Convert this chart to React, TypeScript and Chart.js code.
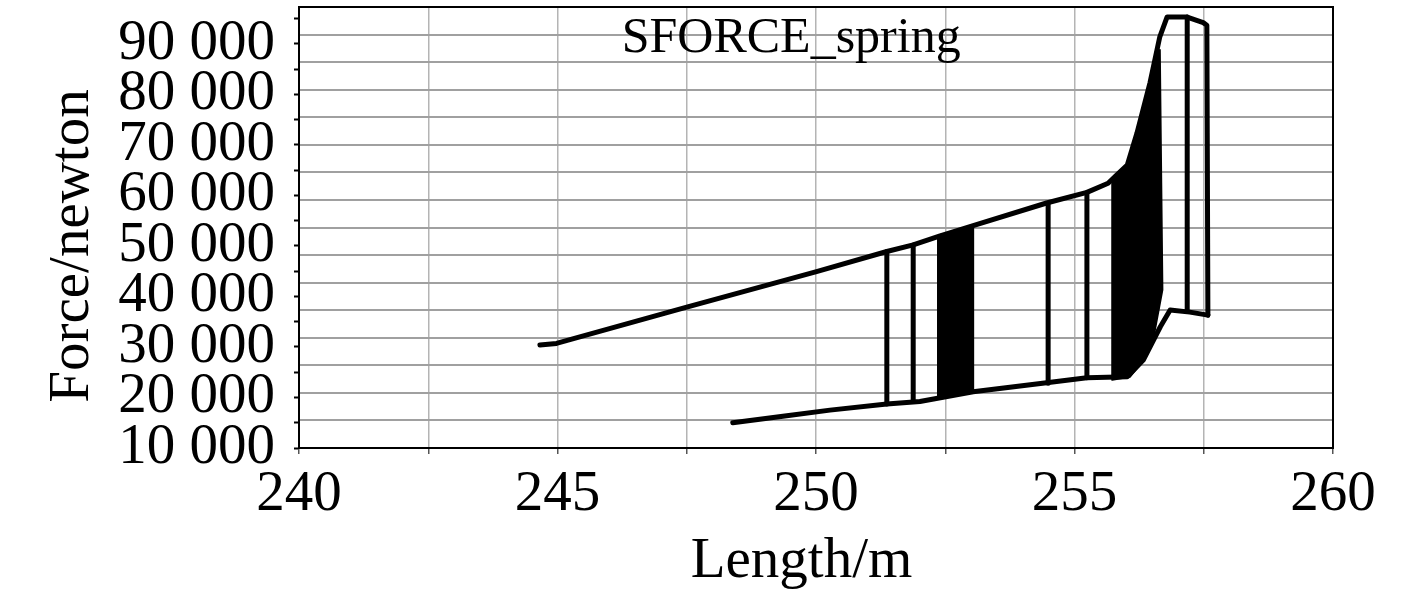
import React, { useEffect, useRef } from "react";
import { Chart, registerables } from "chart.js";

Chart.register(...registerables);

// ---- data ----
const chartTitle = "SFORCE_spring";
const xAxisTitle = "Length/m";
const yAxisTitle = "Force/newton";

const xMin = 240;
const xMax = 260;
const yMin = 10000;
const yMax = 97300;

// tick positions (labels only on the major ones)
const xTickValues = [240, 242.5, 245, 247.5, 250, 252.5, 255, 257.5, 260];
const xLabelValues = [240, 245, 250, 255, 260];
const yTickValues = [10000, 15000, 20000, 25000, 30000, 35000, 40000, 45000, 50000, 55000, 60000, 65000, 70000, 75000, 80000, 85000, 90000, 95000];
const yLabelValues = [10000, 20000, 30000, 40000, 50000, 60000, 70000, 80000, 90000];
const yGridRows = 16; // horizontal grid divisions of the plot frame

// upper branch (loading) incl. the top plateau and right-hand drop
const upperLength = [244.66, 244.98, 247.5, 250.01, 251.37, 251.88, 252.4, 253.04, 254.46, 255.24, 255.65, 255.82, 256.02, 256.21, 256.46, 256.65, 256.79, 257.18, 257.49, 257.56, 257.58];
const upperForce = [30400, 30700, 37900, 44900, 48900, 50200, 52000, 54000, 58500, 60600, 62400, 64100, 66000, 72400, 82300, 91400, 95300, 95300, 94200, 93700, 36300];

// lower branch (unloading)
const lowerLength = [248.39, 249.36, 250.27, 251.37, 252.01, 253.04, 254.46, 255.24, 256.02, 256.33, 256.66, 256.85, 257.23, 257.58];
const lowerForce = [15000, 16300, 17500, 18700, 19200, 21150, 22900, 23900, 24100, 27400, 34000, 37300, 36900, 36300];

// single oscillation strokes
const strokeLength = [251.37, 251.88, 254.49, 255.24, 257.18];
const strokeTop = [48900, 50200, 58400, 60600, 95300];
const strokeBottom = [18700, 19200, 22800, 23900, 37100];

// dense oscillation bands
const band1Length = [252.36, 253.04, 253.04, 252.36, 252.36];
const band1Force = [51900, 54000, 21150, 19900, 51900];
const band2Length = [255.73, 256.02, 256.21, 256.46, 256.65, 256.7, 256.5, 256.33, 256.07, 255.73, 255.73];
const band2Force = [62500, 66000, 72400, 82300, 88800, 41300, 30400, 27400, 24100, 23500, 62500];

const FONT = "'Liberation Serif', 'Times New Roman', serif";

const zip = (xs: number[], ys: number[]) => xs.map((x, i) => ({ x, y: ys[i] }));
const fmtForce = (v: number) => `${Math.round(v / 1000)} 000`;

const textPlugin = {
  id: "inlineTexts",
  afterDraw(chart: any) {
    const { ctx, chartArea } = chart;
    const w = chartArea.right - chartArea.left;
    ctx.save();
    ctx.fillStyle = "#000";
    // title inside plot
    ctx.font = `50px ${FONT}`;
    ctx.textAlign = "center";
    ctx.textBaseline = "alphabetic";
    ctx.fillText(chartTitle, chartArea.left + w * 0.476, chartArea.top + 45);
    // x axis title
    ctx.font = `57px ${FONT}`;
    ctx.textBaseline = "middle";
    ctx.fillText(xAxisTitle, chartArea.left + w * 0.486, chartArea.bottom + 114);
    // y axis title
    ctx.translate(73, chartArea.top + 239);
    ctx.rotate(-Math.PI / 2);
    ctx.fillText(yAxisTitle, 0, 0);
    ctx.restore();
  },
};

export default function App() {
  const ref = useRef<HTMLCanvasElement | null>(null);

  useEffect(() => {
    if (!ref.current) return;
    const lineStyle = {
      type: "line" as const,
      borderColor: "#000",
      backgroundColor: "#000",
      borderWidth: 5,
      pointRadius: 0,
      fill: false,
      tension: 0,
      borderJoinStyle: "round" as const,
      borderCapStyle: "round" as const,
    };
    const datasets: any[] = [
      { ...lineStyle, label: "band1", data: zip(band1Length, band1Force), fill: "shape", borderWidth: 2 },
      { ...lineStyle, label: "band2", data: zip(band2Length, band2Force), fill: "shape", borderWidth: 2 },
      { ...lineStyle, label: "upper", data: zip(upperLength, upperForce) },
      { ...lineStyle, label: "lower", data: zip(lowerLength, lowerForce) },
      ...strokeLength.map((x, i) => ({
        ...lineStyle,
        label: "stroke" + i,
        data: [
          { x, y: strokeTop[i] },
          { x, y: strokeBottom[i] },
        ],
      })),
    ];

    const chart = new Chart(ref.current, {
      type: "scatter",
      data: { datasets },
      plugins: [textPlugin],
      options: {
        animation: false,
        responsive: false,
        devicePixelRatio: 1,
        showLine: true,
        layout: { padding: { top: 7, right: 84, left: 0, bottom: 0 } },
        plugins: { legend: { display: false }, tooltip: { enabled: false }, title: { display: false } },
        scales: {
          x: {
            type: "linear",
            position: "bottom",
            min: xMin,
            max: xMax,
            afterBuildTicks: (s: any) => {
              s.ticks = xTickValues.map((value) => ({ value }));
            },
            afterFit: (s: any) => {
              s.height = 152;
              s.paddingLeft = 0;
              s.paddingRight = 0;
            },
            ticks: {
              autoSkip: false,
              maxRotation: 0,
              minRotation: 0,
              padding: 7,
              color: "#000",
              font: { family: FONT, size: 57, lineHeight: 1.2 },
              callback: (v: any) => (xLabelValues.includes(Number(v)) ? String(v) : ""),
            },
            grid: { color: "#b4b4b4", lineWidth: 1.5, tickColor: "#555", tickLength: 6, tickWidth: 1.5 },
            border: { color: "#000", width: 2 },
          },
          xTop: {
            type: "linear",
            position: "top",
            min: xMin,
            max: xMax,
            afterFit: (s: any) => {
              s.height = 0;
              s.paddingLeft = 0;
              s.paddingRight = 0;
            },
            ticks: { display: false },
            grid: { drawOnChartArea: false, drawTicks: false },
            border: { color: "#000", width: 2 },
          },
          y: {
            type: "linear",
            position: "left",
            min: yMin,
            max: yMax,
            afterBuildTicks: (s: any) => {
              s.ticks = yTickValues.map((value) => ({ value }));
            },
            afterFit: (s: any) => {
              s.width = 299;
              s.paddingTop = 0;
              s.paddingBottom = 0;
            },
            ticks: {
              autoSkip: false,
              padding: 19,
              color: "#000",
              font: { family: FONT, size: 57, lineHeight: 1.2 },
              callback: (v: any) => (yLabelValues.includes(Number(v)) ? fmtForce(Number(v)) : ""),
            },
            grid: { drawOnChartArea: false, tickColor: "#000", tickLength: 5, tickWidth: 2 },
            border: { color: "#000", width: 2 },
          },
          yGrid: {
            type: "linear",
            position: "right",
            min: 0,
            max: yGridRows,
            afterBuildTicks: (s: any) => {
              s.ticks = Array.from({ length: yGridRows + 1 }, (_, i) => ({ value: i }));
            },
            afterFit: (s: any) => {
              s.width = 0;
              s.paddingTop = 0;
              s.paddingBottom = 0;
            },
            ticks: { display: false },
            grid: { color: "#a0a0a0", lineWidth: 2, drawTicks: false },
            border: { color: "#000", width: 2 },
          },
        },
      },
    } as any);
    return () => chart.destroy();
  }, []);

  return (
    <div style={{ position: "absolute", left: 0, top: 0, width: 1417, height: 600, background: "#fff" }}>
      <canvas ref={ref} width={1417} height={600} />
    </div>
  );
}
